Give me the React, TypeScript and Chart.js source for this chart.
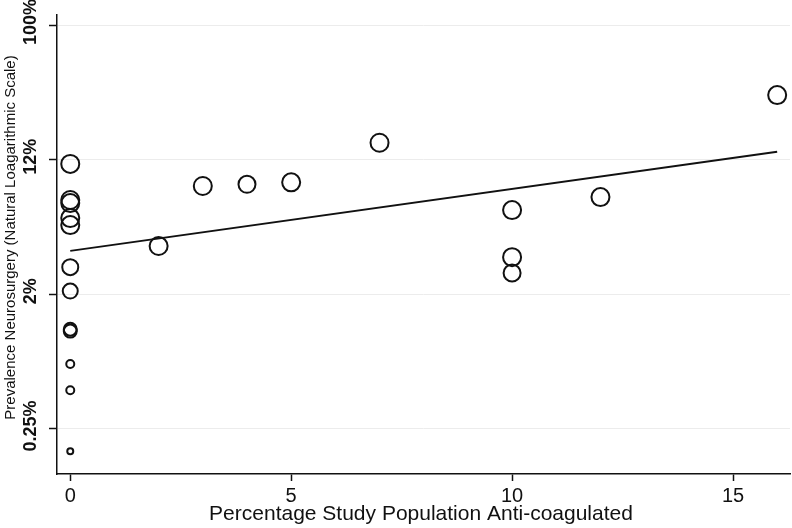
import React, { useEffect, useRef } from "react";
import { Chart, registerables } from "chart.js";

Chart.register(...registerables);

// Percentage of study population anti-coagulated (x)
const anticoagPct = [0, 0, 0, 0, 0, 0, 0, 0, 0, 0, 0, 0, 2, 3, 4, 5, 7, 10, 10, 10, 12, 16];
// Prevalence of neurosurgery, in percent (plotted on a natural-log scale)
const prevalencePct = [
  12.7, 7.43, 7.1, 5.68, 5.12, 2.74, 1.92, 1.09, 1.06, 0.65, 0.44, 0.178,
  3.75, 9.15, 9.38, 9.66, 17.4, 6.4, 3.18, 2.51, 7.76, 35.3,
];
// Study weight (bubble size)
const studyWeight = [9, 9, 9, 9, 9, 8, 7.5, 6.5, 6.5, 4, 4, 3, 9, 9, 8.5, 9, 9, 9, 9, 8.5, 9, 9];
// Fitted regression line
const fitX = [0, 16];
const fitPrevalencePct = [3.49, 15.2];
// Axis ticks
const yTickValues = [-6, -4, -2, 0];
const yTickLabels = ["0.25%", "2%", "12%", "100%"];
const xTickValues = [0, 5, 10, 15];
const xTitle = "Percentage Study Population Anti-coagulated";
const yTitle = "Prevalence Neurosurgery (Natural Loagarithmic Scale)";

const FONT = "'Liberation Sans', Arial, Helvetica, sans-serif";

const toLn = (p: number) => Math.log(p / 100);

const axisTextPlugin = {
  id: "axisText",
  afterDraw(chart: any) {
    const ctx = chart.ctx as CanvasRenderingContext2D;
    const ys = chart.scales.y;
    const area = chart.chartArea;
    ctx.save();
    ctx.fillStyle = "#111";
    ctx.textAlign = "center";
    ctx.textBaseline = "middle";
    ctx.font = `bold 18px ${FONT}`;
    yTickValues.forEach((v, i) => {
      const py = ys.getPixelForValue(v);
      ctx.save();
      ctx.translate(31, py - 3);
      ctx.rotate(-Math.PI / 2);
      ctx.fillText(yTickLabels[i], 0, 0);
      ctx.restore();
    });
    ctx.font = `15px ${FONT}`;
    ctx.save();
    ctx.translate(11, (area.top + area.bottom) / 2 - 7);
    ctx.rotate(-Math.PI / 2);
    ctx.fillText(yTitle, 0, 0);
    ctx.restore();
    ctx.font = `21px ${FONT}`;
    ctx.textBaseline = "alphabetic";
    ctx.fillText(xTitle, 421, 520);
    ctx.restore();
  },
};

export default function App() {
  const ref = useRef<HTMLCanvasElement | null>(null);

  useEffect(() => {
    document.body.style.margin = "0";
    if (!ref.current) return;
    const bubbles = anticoagPct.map((x, i) => ({
      x,
      y: toLn(prevalencePct[i]),
      r: studyWeight[i],
    }));
    const fit = fitX.map((x, i) => ({ x, y: toLn(fitPrevalencePct[i]) }));

    const chart = new Chart(ref.current, {
      type: "bubble",
      data: {
        datasets: [
          {
            type: "line",
            data: fit,
            borderColor: "#111",
            borderWidth: 2,
            pointRadius: 0,
            fill: false,
          } as any,
          {
            type: "bubble",
            data: bubbles,
            backgroundColor: "rgba(0,0,0,0)",
            borderColor: "#111",
            borderWidth: 2,
          } as any,
        ],
      },
      options: {
        responsive: false,
        animation: false,
        events: [],
        layout: { autoPadding: false, padding: { top: 15, right: 2, left: 0, bottom: 0 } },
        plugins: {
          legend: { display: false },
          tooltip: { enabled: false },
          title: { display: false },
        },
        scales: {
          x: {
            type: "linear",
            min: -0.3,
            max: 16.29,
            afterBuildTicks: (s: any) => {
              s.ticks = xTickValues.map((v) => ({ value: v }));
            },
            afterFit: (s: any) => {
              s.height = 54;
              s.paddingLeft = 0;
              s.paddingRight = 0;
            },
            grid: {
              drawOnChartArea: false,
              drawTicks: true,
              tickLength: 7,
              tickColor: "#111",
              tickWidth: 1.5,
            },
            border: { display: true, color: "#111", width: 1.5 },
            ticks: {
              color: "#111",
              font: { family: FONT, size: 20 },
              padding: 3,
              maxRotation: 0,
              minRotation: 0,
              callback: (v: any) => String(v),
            },
          },
          y: {
            type: "linear",
            min: -6.67,
            max: 0.149,
            afterBuildTicks: (s: any) => {
              s.ticks = yTickValues.map((v) => ({ value: v }));
            },
            afterFit: (s: any) => {
              s.width = 57;
              s.paddingTop = 0;
              s.paddingBottom = 0;
            },
            grid: {
              color: "#ececec",
              lineWidth: 1,
              drawTicks: true,
              tickLength: 8,
              tickColor: "#111",
              tickWidth: 1.5,
            },
            border: { display: true, color: "#111", width: 1.5 },
            ticks: { display: false },
          },
        },
      },
      plugins: [axisTextPlugin],
    });
    return () => chart.destroy();
  }, []);

  return (
    <div style={{ width: 792, height: 528 }}>
      <canvas ref={ref} width={792} height={528} style={{ display: "block" }} />
    </div>
  );
}
